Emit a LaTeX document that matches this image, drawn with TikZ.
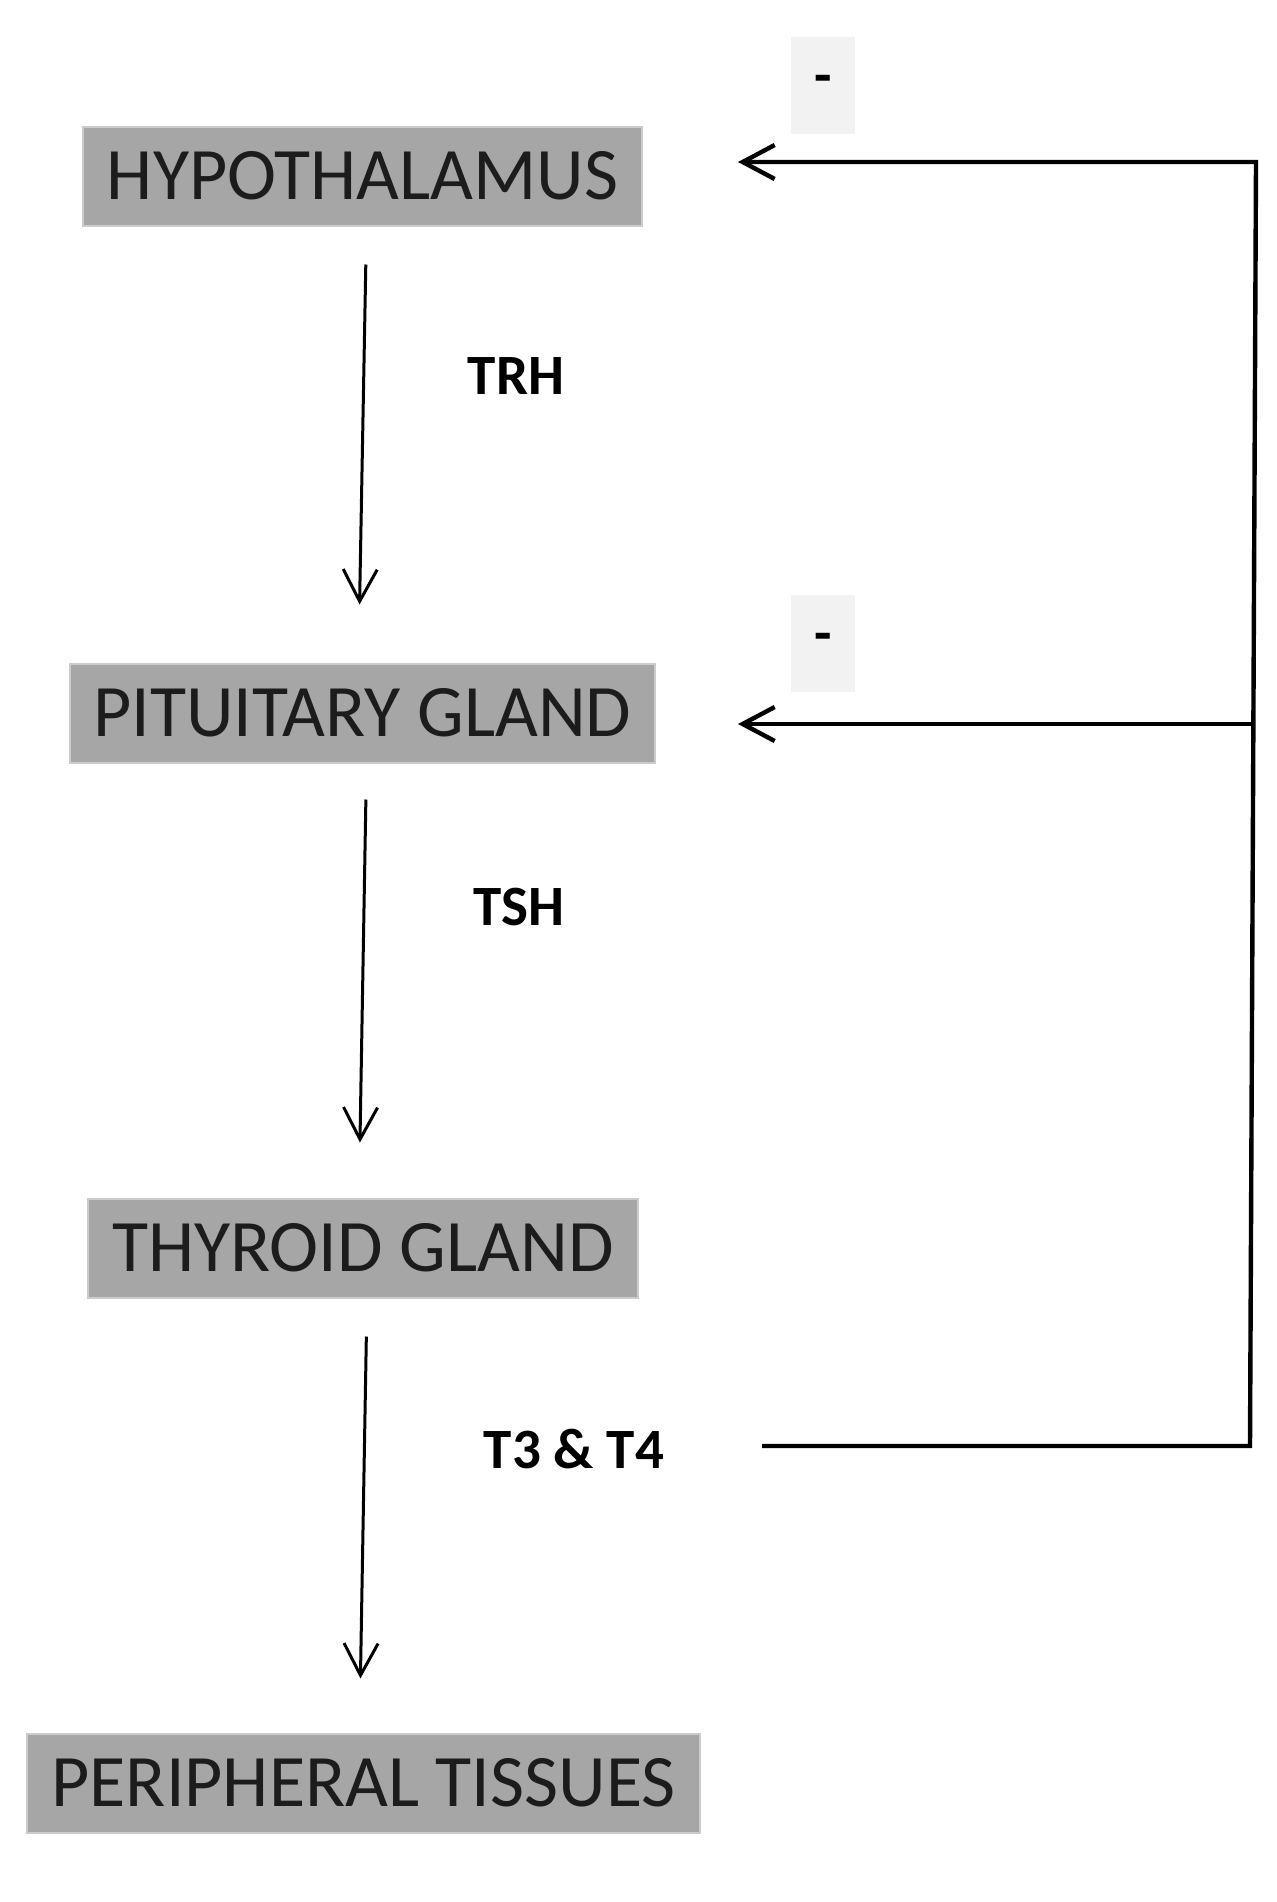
\documentclass[tikz,border=0pt]{standalone}
\usepackage{fontspec}
\setmainfont{Carlito}
\usetikzlibrary{arrows.meta}
\definecolor{boxgray}{RGB}{166,166,166}
\definecolor{boxedge}{RGB}{204,204,204}
\definecolor{minusgray}{RGB}{242,242,242}
\definecolor{boxtext}{RGB}{28,28,28}
\begin{document}
\begin{tikzpicture}[x=0.5pt, y=-0.5pt,
  organ/.style={rectangle, fill=boxgray, draw=boxedge, line width=1pt, text=boxtext, font=\fontsize{37}{40}\selectfont, inner xsep=12pt, minimum height=49.5pt},
  hormone/.style={font=\fontsize{28.5}{30}\selectfont\bfseries},
  minus/.style={rectangle, fill=minusgray, minimum width=32pt, minimum height=48.5pt, font=\fontsize{28.5}{30}\selectfont\bfseries},
  down/.style={-{Straight Barb[length=16pt, width=17pt]}, line width=1.5pt},
  inhibit/.style={-{Straight Barb[length=16pt, width=17pt]}, line width=2.2pt}]
\useasboundingbox (0,0) rectangle (1277,1902);

% Organs
\node (hyp) [organ] at (362.5,176) {HYPOTHALAMUS};
\node (pit) [organ] at (362.5,713) {PITUITARY GLAND};
\node (thy) [organ] at (363,1248) {THYROID GLAND};
\node (per) [organ] at (363.5,1783) {PERIPHERAL TISSUES};

% Hormones
\node (trh) [hormone] at (516,376) {TRH};
\node (tsh) [hormone] at (519,907) {TSH};
\node (t34) [hormone] at (574,1449) {T3 \& T4};

\node (minushyp) [minus] at (823,85) {-};
\node (minuspit) [minus] at (823,643) {-};

% Feedback loop points
\coordinate (fbstart) at (762,1446);
\coordinate (fbbottom) at (1250,1446);
\coordinate (fbtop) at (1256,162);
\coordinate (fbmid) at (1253.4,724);
\coordinate (hyptip) at (738,162);
\coordinate (pittip) at (738,724);

% Links
\draw[down, shorten <=19pt, shorten >=29pt] ([xshift=2pt]hyp.south) -- ([xshift=-2pt]pit.north);
\draw[down, shorten <=18pt, shorten >=27.5pt] ([xshift=2pt]pit.south) -- ([xshift=-2pt]thy.north);
\draw[down, shorten <=19pt, shorten >=27pt] ([xshift=2pt]thy.south) -- ([xshift=-2pt]per.north);

\draw[inhibit] (fbstart) -- (fbbottom) -- (fbtop) -- (hyptip);
\draw[inhibit] (fbmid) -- (pittip);

\end{tikzpicture}
\end{document}
